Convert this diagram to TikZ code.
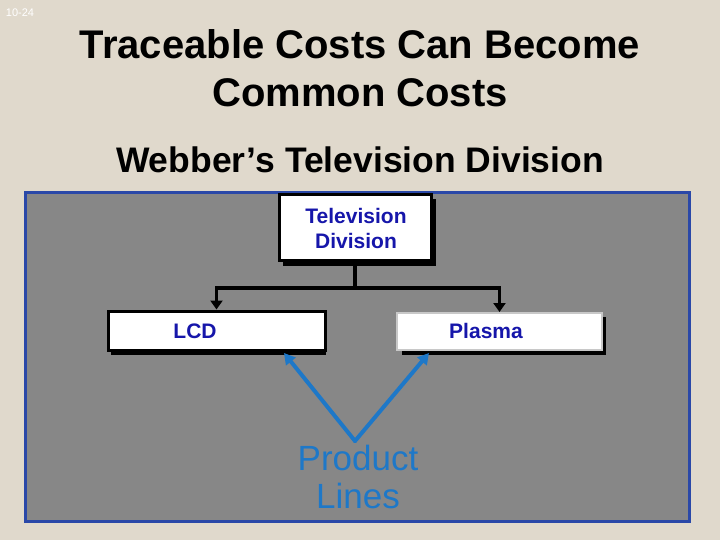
\documentclass[tikz,border=0pt]{standalone}
\usepackage{fontspec}
\setmainfont{Liberation Sans}
\usetikzlibrary{arrows.meta}
\definecolor{bgbeige}{RGB}{224,217,204}
\definecolor{panelgray}{RGB}{135,135,135}
\definecolor{panelblue}{RGB}{42,72,168}
\definecolor{boxtext}{RGB}{22,22,170}
\definecolor{arrowblue}{RGB}{30,120,200}
\definecolor{lightedge}{RGB}{200,200,200}
\tikzset{
  orgbox/.style={draw=black, line width=3pt, fill=white, inner sep=0pt},
  boxlabel/.style={font=\bfseries\fontsize{21}{25}\selectfont, text=boxtext, align=center},
  shadowbox/.style={fill=black, draw=none},
  treearrow/.style={draw=black, line width=3.6pt, -{Triangle[length=9pt,width=12pt]}},
  treeline/.style={draw=black, line width=3.6pt},
  bluearrow/.style={draw=arrowblue, line width=4pt, -{Triangle[length=11pt,width=12pt]}, line cap=round},
}
\begin{document}
\begin{tikzpicture}[x=1pt,y=-1pt]
\useasboundingbox (0,0) rectangle (720,540);
\fill[bgbeige] (0,0) rectangle (720,540);
% slide number
\node[text=white, font=\fontsize{11}{13}\selectfont] (num) at (20,13) {10-24};
% titles
\node[font=\bfseries\fontsize{40}{48}\selectfont, align=center] (title) at (360,68) {Traceable Costs Can Become\\Common Costs};
\node[font=\bfseries\fontsize{35.5}{40}\selectfont] (sub) at (360,160) {Webber’s Television Division};
% panel
\draw[panelblue, line width=3pt, fill=panelgray] (25.5,192.5) rectangle (689.5,521.5);
% shadows
\fill[shadowbox] (283,199) rectangle (436,266);
\fill[shadowbox] (111,315) rectangle (326,355);
\fill[shadowbox] (402,317) rectangle (606,355);
% boxes
\node[orgbox, minimum width=152pt, minimum height=65pt] (tv) at (355,227.5) {};
\node[boxlabel] (tvt) at (356,228) {Television\\Division};
\node[orgbox, minimum width=217pt, minimum height=39pt] (lcd) at (216.5,330.5) {};
\node[boxlabel] (lcdt) at (195,331) {LCD};
\node[orgbox, draw=lightedge, line width=2pt, minimum width=205pt, minimum height=37pt] (pla) at (499.5,331.5) {};
\node[boxlabel] (plat) at (486,331) {Plasma};
% tree connectors
\coordinate (j) at (355,288);
\draw[treeline] (tv.south) -- (j);
\draw[treearrow] (j) -| (lcd.north);
\draw[treearrow] (j) -| (pla.north);
% product lines
\node[text=arrowblue, font=\fontsize{35}{38}\selectfont, align=center] (pl) at (358,477) {Product\\Lines};
\coordinate (apex) at (355,441);
\coordinate (ta) at (284,353);
\coordinate (tb) at (429,353);
\draw[bluearrow] (apex) -- (ta);
\draw[bluearrow] (apex) -- (tb);
\end{tikzpicture}
\end{document}
